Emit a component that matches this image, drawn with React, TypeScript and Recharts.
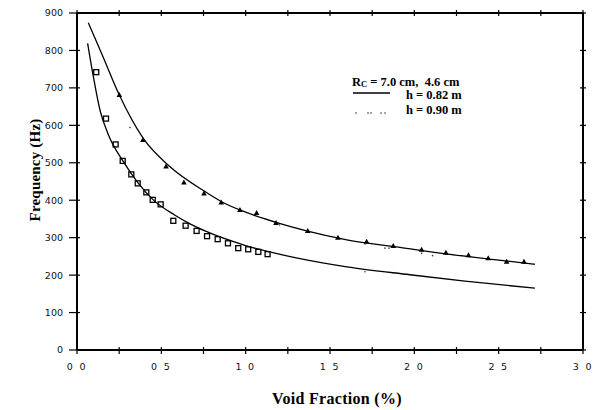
import React from 'react';
import { ComposedChart, Line, Scatter, XAxis, YAxis } from 'recharts';

// x ticks (void fraction, %) and y ticks (frequency, Hz)
const xTicks = [0, 0.25, 0.5, 0.75, 1, 1.25, 1.5, 1.75, 2, 2.25, 2.5, 2.75, 3];
const xLabelValues = [0, 0.5, 1, 1.5, 2, 2.5, 3];
const xTickLabels = ['0 0', '0 5', '1 0', '1 5', '2 0', '2 5', '3 0'];
const yTicks = [0, 100, 200, 300, 400, 500, 600, 700, 800, 900];

// Rc = 7.0 cm data (triangles) and fitted curve
const upperPoints = [
  { x: 0.251, y: 681 }, { x: 0.391, y: 561 }, { x: 0.528, y: 490 }, { x: 0.634, y: 447 },
  { x: 0.753, y: 418 }, { x: 0.855, y: 394 }, { x: 0.966, y: 374 }, { x: 1.065, y: 366 },
  { x: 1.18, y: 339 }, { x: 1.368, y: 318 }, { x: 1.547, y: 300 }, { x: 1.717, y: 289 },
  { x: 1.875, y: 278 }, { x: 2.043, y: 268 }, { x: 2.187, y: 260 }, { x: 2.321, y: 253 },
  { x: 2.438, y: 245 }, { x: 2.547, y: 236 }, { x: 2.65, y: 236 },
];
const upperCurve = [
  { x: 0.067, y: 874 }, { x: 0.146, y: 792 }, { x: 0.251, y: 681 }, { x: 0.393, y: 565 },
  { x: 0.55, y: 490 }, { x: 0.759, y: 423 }, { x: 0.857, y: 396 }, { x: 1.0, y: 368 },
  { x: 1.2, y: 338 }, { x: 1.361, y: 318 }, { x: 1.6, y: 294 }, { x: 1.915, y: 274 },
  { x: 2.2, y: 256 }, { x: 2.5, y: 240 }, { x: 2.715, y: 229 },
];

// Rc = 4.6 cm data (squares) and fitted curve
const lowerPoints = [
  { x: 0.114, y: 742 }, { x: 0.172, y: 618 }, { x: 0.229, y: 549 }, { x: 0.271, y: 505 },
  { x: 0.322, y: 469 }, { x: 0.36, y: 445 }, { x: 0.411, y: 421 }, { x: 0.449, y: 401 },
  { x: 0.496, y: 389 }, { x: 0.571, y: 345 }, { x: 0.644, y: 332 }, { x: 0.709, y: 318 },
  { x: 0.771, y: 304 }, { x: 0.834, y: 296 }, { x: 0.895, y: 285 }, { x: 0.956, y: 272 },
  { x: 1.015, y: 269 }, { x: 1.075, y: 262 }, { x: 1.13, y: 256 },
];
const lowerCurve = [
  { x: 0.063, y: 819 }, { x: 0.097, y: 730 }, { x: 0.136, y: 641 }, { x: 0.186, y: 575 },
  { x: 0.275, y: 503 }, { x: 0.364, y: 445 }, { x: 0.452, y: 401 }, { x: 0.581, y: 360 },
  { x: 0.67, y: 337 }, { x: 0.759, y: 318 }, { x: 1.0, y: 279 }, { x: 1.322, y: 244 },
  { x: 1.6, y: 222 }, { x: 1.974, y: 201 }, { x: 2.3, y: 184 }, { x: 2.715, y: 165 },
];

// h = 0.90 m faint dotted marks
const dotPoints = [
  { x: 0.314, y: 594 }, { x: 1.2, y: 334 }, { x: 1.707, y: 283 }, { x: 1.707, y: 209 },
  { x: 1.826, y: 272 }, { x: 1.85, y: 272 }, { x: 2.043, y: 258 }, { x: 2.108, y: 252 },
];

const tickFont = { fontFamily: '"DejaVu Sans", sans-serif', fontSize: 9.5, fill: '#111' };

const BottomTick = (props: any) => {
  const { x, y, payload } = props;
  const idx = xLabelValues.indexOf(payload.value);
  return (
    <g>
      <line x1={x} x2={x} y1={y - 3} y2={y + 4} stroke="#000" strokeWidth={1.2} />
      {idx >= 0 && (
        <text x={x} y={y + 20} textAnchor="middle" style={{ ...tickFont, letterSpacing: 1.8 }}>
          {xTickLabels[idx]}
        </text>
      )}
    </g>
  );
};

const TopTick = (props: any) => {
  const { x, y } = props;
  return <line x1={x} x2={x} y1={y - 3} y2={y + 3} stroke="#000" strokeWidth={1.2} />;
};

const LeftTick = (props: any) => {
  const { x, y, payload } = props;
  return (
    <g>
      <line x1={x - 8} x2={x + 3} y1={y} y2={y} stroke="#000" strokeWidth={1.2} />
      <text x={x - 14} y={y} dy="0.36em" textAnchor="end" style={tickFont}>
        {payload.value}
      </text>
    </g>
  );
};

const RightTick = (props: any) => {
  const { x, y } = props;
  return <line x1={x - 3} x2={x + 3} y1={y} y2={y} stroke="#000" strokeWidth={1.2} />;
};

const Triangle = (props: any) => {
  const { cx, cy } = props;
  return <polygon points={`${cx},${cy - 3} ${cx - 2.8},${cy + 2} ${cx + 2.8},${cy + 2}`} fill="#000" />;
};

const Square = (props: any) => {
  const { cx, cy } = props;
  return <rect x={cx - 2.5} y={cy - 2.5} width={5} height={5} fill="none" stroke="#000" strokeWidth={1.3} />;
};

const Dot = (props: any) => {
  const { cx, cy } = props;
  return <circle cx={cx} cy={cy} r={0.8} fill="#333" />;
};

const serif = '"Liberation Serif", "Times New Roman", serif';

export default function App() {
  return (
    <div style={{ position: 'absolute', left: 0, top: 0, width: 596, height: 410, background: '#fff' }}>
      <ComposedChart width={596} height={410} margin={{ top: 12, right: 12, bottom: 0, left: 0 }}>
        <XAxis
          xAxisId="b"
          dataKey="x"
          type="number"
          domain={[0, 3]}
          ticks={xTicks}
          allowDataOverflow
          height={60}
          tickSize={0}
          tickMargin={0}
          tickLine={false}
          axisLine={{ stroke: '#000', strokeWidth: 2 }}
          tick={<BottomTick />}
          interval={0}
        />
        <XAxis
          xAxisId="t"
          orientation="top"
          dataKey="x"
          type="number"
          domain={[0, 3]}
          ticks={xTicks}
          allowDataOverflow
          height={1}
          tickSize={0}
          tickMargin={0}
          tickLine={false}
          axisLine={{ stroke: '#000', strokeWidth: 2 }}
          tick={<TopTick />}
          interval={0}
        />
        <YAxis
          yAxisId="l"
          dataKey="y"
          type="number"
          domain={[0, 900]}
          ticks={yTicks}
          allowDataOverflow
          width={77}
          tickSize={0}
          tickMargin={0}
          tickLine={false}
          axisLine={{ stroke: '#000', strokeWidth: 2 }}
          tick={<LeftTick />}
          interval={0}
        />
        <YAxis
          yAxisId="r"
          orientation="right"
          dataKey="y"
          type="number"
          domain={[0, 900]}
          ticks={yTicks}
          allowDataOverflow
          width={1}
          tickSize={0}
          tickMargin={0}
          tickLine={false}
          axisLine={{ stroke: '#000', strokeWidth: 2 }}
          tick={<RightTick />}
          interval={0}
        />
        <Line xAxisId="b" yAxisId="l" data={upperCurve} dataKey="y" type="monotone" stroke="#000"
          strokeWidth={1.3} dot={false} isAnimationActive={false} />
        <Line xAxisId="b" yAxisId="l" data={lowerCurve} dataKey="y" type="monotone" stroke="#000"
          strokeWidth={1.3} dot={false} isAnimationActive={false} />
        <Scatter xAxisId="b" yAxisId="l" data={upperPoints} dataKey="y" shape={<Triangle />} isAnimationActive={false} />
        <Scatter xAxisId="b" yAxisId="l" data={lowerPoints} dataKey="y" shape={<Square />} isAnimationActive={false} />
        <Scatter xAxisId="b" yAxisId="l" data={dotPoints} dataKey="y" shape={<Dot />} isAnimationActive={false} />
      </ComposedChart>

      <svg width={596} height={410} style={{ position: 'absolute', left: 0, top: 0, pointerEvents: 'none' }}>
        <text x={337} y={398} dy="0.35em" textAnchor="middle"
          style={{ fontFamily: serif, fontWeight: 'bold', fontSize: 16, letterSpacing: 0.3 }}>
          Void Fraction (%)
        </text>
        <text x={35} y={170} dy="0.35em" textAnchor="middle" transform="rotate(-90 35 170)"
          style={{ fontFamily: serif, fontWeight: 'bold', fontSize: 15, letterSpacing: 0.2 }}>
          Frequency (Hz)
        </text>
        <g style={{ fontFamily: serif, fontWeight: 'bold', fontSize: 12.5 }}>
          <text x={352} y={85.5}>
            R<tspan fontSize={8.5} dy={1.5}>C</tspan><tspan dy={-1.5}>{' = 7.0 cm,\u00a0\u00a04.6 cm'}</tspan>
          </text>
          <line x1={353} x2={390} y1={93} y2={93} stroke="#000" strokeWidth={1.3} />
          <text x={406} y={99}>h = 0.82 m</text>
          <circle cx={356} cy={113} r={0.8} fill="#333" />
          <circle cx={368} cy={113} r={0.8} fill="#333" />
          <circle cx={371} cy={113} r={0.8} fill="#333" />
          <circle cx={381} cy={113} r={0.8} fill="#333" />
          <circle cx={385} cy={113} r={0.8} fill="#333" />
          <text x={406} y={113.5}>h = 0.90 m</text>
        </g>
      </svg>
    </div>
  );
}
